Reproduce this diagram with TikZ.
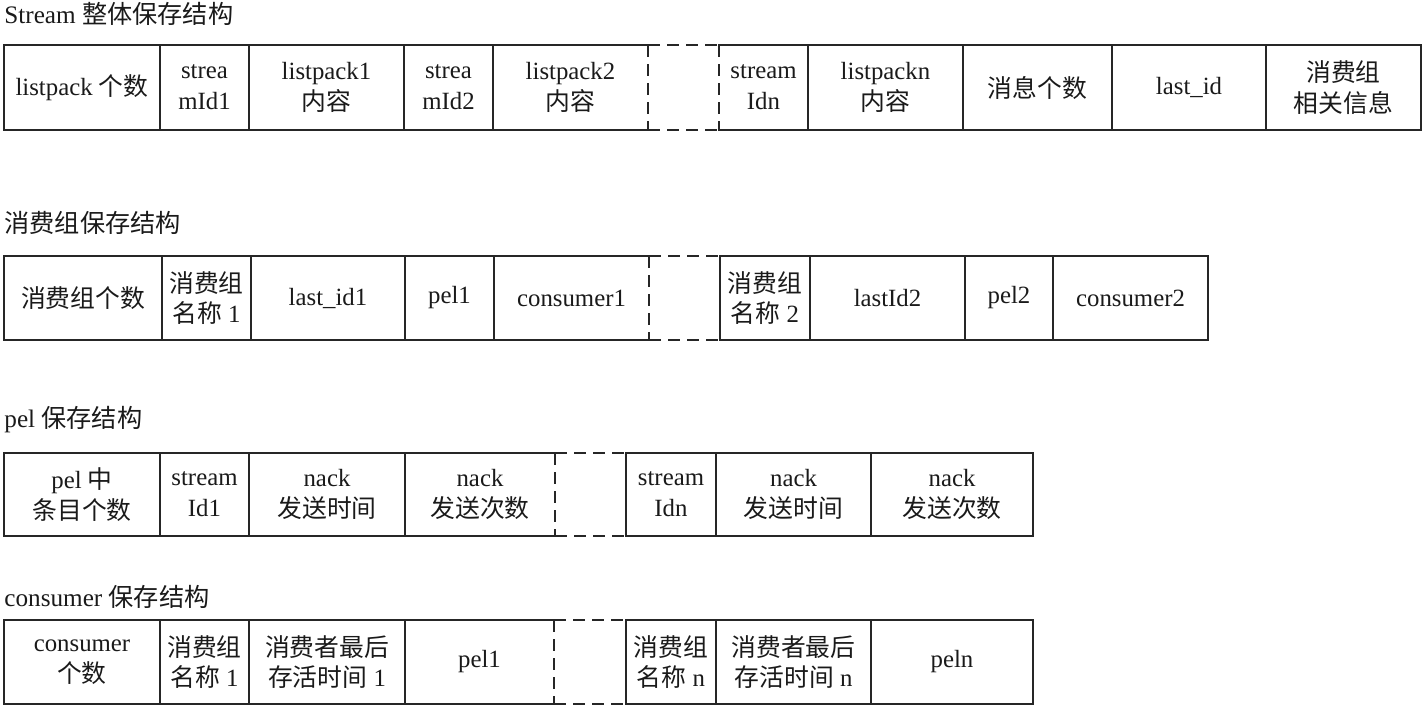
\documentclass[tikz,border=0pt]{standalone}
\usepackage{fontspec}
\setmainfont{Liberation Serif}
\newfontfamily\cjk{Noto Sans CJK SC}
\newcommand\zh[1]{{\cjk #1}}
\definecolor{linec}{HTML}{262626}
\definecolor{textc}{HTML}{1A1A1A}
\newcommand\cellbox[6]{\node[cell, minimum width={(#3-#2)*0.5pt}, minimum height={(#5-#4)*0.5pt}] (#1) at ({(#2+#3)/2},{(#4+#5)/2}) {#6};}
\newcommand\gapbox[5]{\node[gapcell, minimum width={(#3-#2)*0.5pt}, minimum height={(#5-#4)*0.5pt}] (#1) at ({(#2+#3)/2},{(#4+#5)/2}) {};}
\begin{document}
\begin{tikzpicture}[x=0.5pt,y=-0.5pt,
  cell/.style={draw=linec, line width=1.4pt, inner sep=0pt, outer sep=0pt, align=center,
    font=\fontsize{12.4}{15.4}\selectfont, text=textc},
  gapcell/.style={draw=none, inner sep=0pt, outer sep=0pt},
  dashline/.style={draw=linec, line width=1.4pt, dash pattern=on 6pt off 3.5pt},
  eraser/.style={draw=white, line width=2.2pt},
  title/.style={anchor=west, inner sep=0pt, font=\fontsize{12.6}{15}\selectfont, text=textc}]
\useasboundingbox (0,0) rectangle (1423,707);

% ---------- Row 1 ----------
\node[title] (t1) at (4,14) {Stream \zh{整体保存结构}};
\cellbox{a1}{4}{160}{45}{130}{listpack \zh{个数}}
\cellbox{a2}{160}{249}{45}{130}{strea\\mId1}
\cellbox{a3}{249}{404}{45}{130}{listpack1\\\zh{内容}}
\cellbox{a4}{404}{493}{45}{130}{strea\\mId2}
\cellbox{a5}{493}{648}{45}{130}{listpack2\\\zh{内容}}
\gapbox{g1}{648}{719}{45}{130}
\cellbox{a6}{719}{808}{45}{130}{stream\\Idn}
\cellbox{a7}{808}{963}{45}{130}{listpackn\\\zh{内容}}
\cellbox{a8}{963}{1112}{45}{130}{\zh{消息个数}}
\cellbox{a9}{1112}{1266}{45}{130}{last\_id}
\cellbox{a10}{1266}{1421}{45}{130}{\zh{消费组}\\\zh{相关信息}}
\draw[eraser] ([yshift=-0.9pt]g1.north west) -- ([yshift=0.9pt]g1.south west);
\draw[eraser] ([yshift=-0.9pt]g1.north east) -- ([yshift=0.9pt]g1.south east);
\draw[dashline] (g1.north west) -- (g1.south west);
\draw[dashline] (g1.north east) -- (g1.south east);
\draw[dashline] (g1.north west) -- (g1.north east);
\draw[dashline] (g1.south west) -- (g1.south east);

% ---------- Row 2 ----------
\node[title] (t2) at (4,223) {\zh{消费组保存结构}};
\cellbox{b1}{4}{162}{256}{340}{\zh{消费组个数}}
\cellbox{b2}{162}{251}{256}{340}{\zh{消费组}\\\zh{名称} 1}
\cellbox{b3}{251}{405}{256}{340}{last\_id1}
\cellbox{b4}{405}{494}{256}{340}{pel1}
\cellbox{b5}{494}{649}{256}{340}{consumer1}
\gapbox{g2}{649}{720}{256}{340}
\cellbox{b6}{720}{810}{256}{340}{\zh{消费组}\\\zh{名称} 2}
\cellbox{b7}{810}{965}{256}{340}{lastId2}
\cellbox{b8}{965}{1053}{256}{340}{pel2}
\cellbox{b9}{1053}{1208}{256}{340}{consumer2}
\draw[eraser] ([yshift=-0.9pt]g2.north west) -- ([yshift=0.9pt]g2.south west);
\draw[dashline] (g2.north west) -- (g2.south west);
\draw[dashline] (g2.north west) -- (g2.north east);
\draw[dashline] (g2.south west) -- (g2.south east);

% ---------- Row 3 ----------
\node[title] (t3) at (4,420) {pel \zh{保存结构}};
\cellbox{c1}{4}{160}{453}{536}{pel \zh{中}\\\zh{条目个数}}
\cellbox{c2}{160}{249}{453}{536}{stream\\Id1}
\cellbox{c3}{249}{405}{453}{536}{nack\\\zh{发送时间}}
\cellbox{c4}{405}{555}{453}{536}{nack\\\zh{发送次数}}
\gapbox{g3}{555}{626}{453}{536}
\cellbox{c5}{626}{716}{453}{536}{stream\\Idn}
\cellbox{c6}{716}{871}{453}{536}{nack\\\zh{发送时间}}
\cellbox{c7}{871}{1033}{453}{536}{nack\\\zh{发送次数}}
\draw[eraser] ([yshift=-0.9pt]g3.north west) -- ([yshift=0.9pt]g3.south west);
\draw[dashline] (g3.north west) -- (g3.south west);
\draw[dashline] (g3.north west) -- (g3.north east);
\draw[dashline] (g3.south west) -- (g3.south east);

% ---------- Row 4 ----------
\node[title] (t4) at (4,597) {consumer \zh{保存结构}};
\cellbox{d1}{4}{160}{620}{704}{consumer\\\zh{个数}}
\cellbox{d2}{160}{249}{620}{704}{\zh{消费组}\\\zh{名称} 1}
\cellbox{d3}{249}{405}{620}{704}{\zh{消费者最后}\\\zh{存活时间} 1}
\cellbox{d4}{405}{554}{620}{704}{pel1}
\gapbox{g4}{554}{626}{620}{704}
\cellbox{d5}{626}{716}{620}{704}{\zh{消费组}\\\zh{名称} n}
\cellbox{d6}{716}{871}{620}{704}{\zh{消费者最后}\\\zh{存活时间} n}
\cellbox{d7}{871}{1033}{620}{704}{peln}
\draw[eraser] ([yshift=-0.9pt]g4.north west) -- ([yshift=0.9pt]g4.south west);
\draw[dashline] (g4.north west) -- (g4.south west);
\draw[dashline] (g4.north west) -- (g4.north east);
\draw[dashline] (g4.south west) -- (g4.south east);
\end{tikzpicture}
\end{document}
